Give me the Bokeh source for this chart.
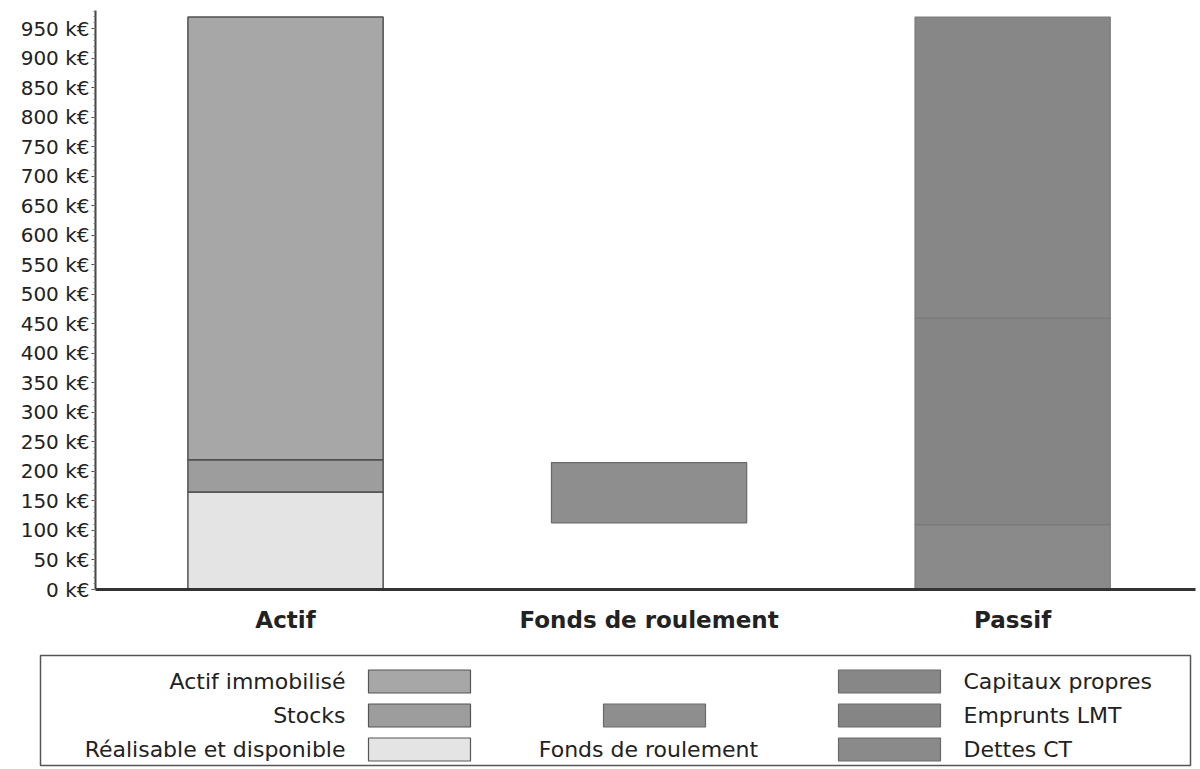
import numpy as np
from bokeh.plotting import figure
from bokeh.models import Range1d, FixedTicker, PrintfTickFormatter, ColumnDataSource
from bokeh.layouts import column
from bokeh.core.properties import value
from bokeh.embed import file_html
from bokeh.resources import INLINE

# ---- data (k€) ----
categories = ["Actif", "Fonds de roulement", "Passif"]
actif_labels = ["Réalisable et disponible", "Stocks", "Actif immobilisé"]
actif_values = [165, 55, 750]
passif_labels = ["Dettes CT", "Emprunts LMT", "Capitaux propres"]
passif_values = [110, 350, 510]
fr_label = "Fonds de roulement"
fr_bas = 113
fr_haut = 215
y_ticks = list(range(0, 951, 50))

actif_colors = ["#e4e4e4", "#9d9d9d", "#a7a7a7"]
passif_colors = ["#8a8a8a", "#858585", "#878787"]
fr_color = "#8e8e8e"

FONT = "DejaVu Sans"

W = 1198
BL, BR = 95, 3
H1 = 640
H2 = 128

p = figure(width=W, height=H1, output_backend="svg", toolbar_location=None,
           x_range=Range1d(-0.5227, 2.503), y_range=Range1d(0, 981),
           min_border_left=BL, min_border_right=BR, min_border_top=10, min_border_bottom=51)
p.outline_line_color = None
p.xgrid.grid_line_color = None
p.ygrid.grid_line_color = None

bar_w = 0.537
# Actif stack
a_top = np.cumsum(actif_values)
a_bot = a_top - np.array(actif_values)
src_a = ColumnDataSource(dict(x=[categories.index("Actif")] * len(actif_values),
                              bottom=a_bot, top=a_top, color=actif_colors))
p.vbar(x="x", bottom="bottom", top="top", width=bar_w, fill_color="color",
       line_color="#505050", line_width=1.5, source=src_a)
# Passif stack
p_top = np.cumsum(passif_values)
p_bot = p_top - np.array(passif_values)
src_p = ColumnDataSource(dict(x=[categories.index("Passif")] * len(passif_values),
                              bottom=p_bot, top=p_top, color=passif_colors))
p.vbar(x="x", bottom="bottom", top="top", width=bar_w, fill_color="color",
       line_color="#7a7a7a", line_width=1.2, source=src_p)
# Fonds de roulement
p.vbar(x=[categories.index("Fonds de roulement")], bottom=[fr_bas], top=[fr_haut],
       width=bar_w, fill_color=fr_color, line_color="#6a6a6a", line_width=1.2)

# axes
p.yaxis.ticker = FixedTicker(ticks=y_ticks, minor_ticks=list(range(0, 981, 10)))
p.yaxis.formatter = PrintfTickFormatter(format="%d k€")
p.yaxis.major_label_text_font = FONT
p.yaxis.major_label_text_font_size = "20px"
p.yaxis.major_label_text_color = "#222222"
p.yaxis.axis_line_color = "#444444"
p.yaxis.axis_line_width = 2
p.yaxis.major_tick_line_color = "#444444"
p.yaxis.major_tick_in = 0
p.yaxis.major_tick_out = 4
p.yaxis.minor_tick_line_color = "#777777"
p.yaxis.minor_tick_in = 0
p.yaxis.minor_tick_out = 2
p.yaxis.major_label_standoff = 2

p.xaxis.ticker = FixedTicker(ticks=list(range(len(categories))))
p.xaxis.major_label_overrides = {i: c for i, c in enumerate(categories)}
p.xaxis.major_label_text_font = FONT
p.xaxis.major_label_text_font_style = "bold"
p.xaxis.major_label_text_font_size = "23px"
p.xaxis.major_label_text_color = "#222222"
p.xaxis.axis_line_color = "#333333"
p.xaxis.axis_line_width = 3
p.xaxis.major_tick_line_color = None
p.xaxis.minor_tick_line_color = None
p.xaxis.major_label_standoff = 11

# ---- legend figure (its data units are page pixels) ----
lg = figure(width=W, height=H2, output_backend="svg", toolbar_location=None,
            x_range=Range1d(BL, W - BR), y_range=Range1d(H1 + H2, H1),
            min_border_left=BL, min_border_right=BR, min_border_top=0, min_border_bottom=0,
            x_axis_type=None, y_axis_type=None)
lg.outline_line_color = None
lg.xgrid.grid_line_color = None
lg.ygrid.grid_line_color = None

LVL = "overlay"  # not clipped to the frame
lg.quad(left=[40], right=[1190], top=[655], bottom=[765], fill_color=None,
        line_color="#555555", line_width=1.5, level=LVL)

rows = [681, 715, 749]
sw_w, sw_h = 102, 23
FS = "22px"
# left column: actif (top row = Actif immobilisé)
lg.rect(x=[419] * 3, y=rows, width=sw_w, height=sw_h, fill_color=actif_colors[::-1],
        line_color="#555555", line_width=1.2, level=LVL)
lg.text(x=[345] * 3, y=rows, text=actif_labels[::-1], text_align="right", text_baseline="middle",
        text_font=value(FONT), text_font_size=FS, text_color="#222222", level=LVL)
# middle: fonds de roulement
lg.rect(x=[654], y=[rows[1]], width=sw_w, height=sw_h, fill_color=fr_color,
        line_color="#6a6a6a", line_width=1.2, level=LVL)
lg.text(x=[648], y=[rows[2]], text=[fr_label], text_align="center", text_baseline="middle",
        text_font=value(FONT), text_font_size=FS, text_color="#222222", level=LVL)
# right column: passif (top row = Capitaux propres)
lg.rect(x=[889] * 3, y=rows, width=sw_w, height=sw_h, fill_color=passif_colors[::-1],
        line_color="#6a6a6a", line_width=1.2, level=LVL)
lg.text(x=[963] * 3, y=rows, text=passif_labels[::-1], text_align="left", text_baseline="middle",
        text_font=value(FONT), text_font_size=FS, text_color="#222222", level=LVL)

layout = column(p, lg, spacing=0)
open("out.html", "w").write(file_html(layout, INLINE))
